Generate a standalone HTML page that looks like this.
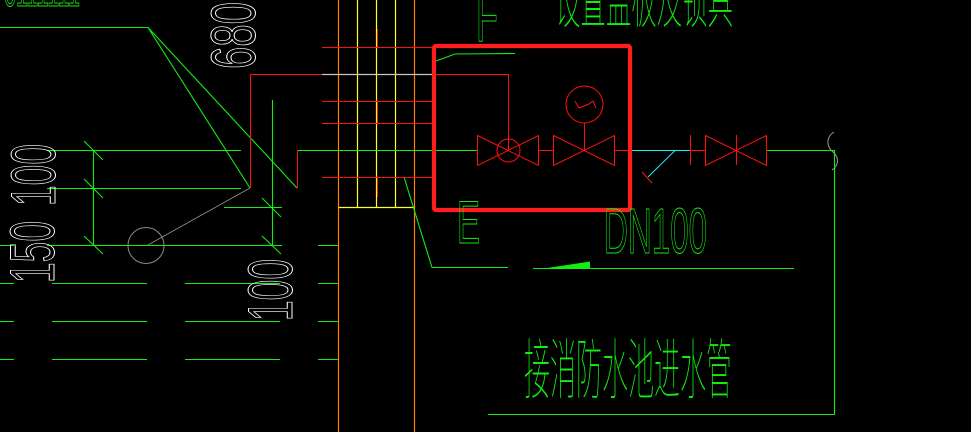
<!DOCTYPE html>
<html>
<head>
<meta charset="utf-8">
<style>
  html,body{margin:0;padding:0;background:#000;}
  body{width:971px;height:432px;overflow:hidden;}
  svg{display:block;}
  .num{font-family:"Liberation Sans",sans-serif;fill:none;stroke:#fff;stroke-width:1;}
  .gt{font-family:"Liberation Sans",sans-serif;fill:none;stroke:#11ee11;stroke-width:1;}
  .cjk{font-family:"Liberation Sans","Noto Sans CJK SC","WenQuanYi Zen Hei",sans-serif;fill:#11ee11;font-weight:100;}
</style>
</head>
<body>
<svg width="971" height="432" viewBox="0 0 971 432" xmlns="http://www.w3.org/2000/svg">
  <rect x="0" y="0" width="971" height="432" fill="#000"/>

  <!-- top-left cut-off green text -->
  <text class="gt" x="4" y="6" font-size="40" textLength="76" lengthAdjust="spacingAndGlyphs">0111111</text>

  <!-- orange verticals -->
  <g stroke="#ff8000" stroke-width="1.2" fill="none">
    <path d="M338.5,0 V432 M414.5,0 V432"/>
  </g>
  <!-- yellow -->
  <g stroke="#ffff20" stroke-width="1.2" fill="none">
    <path d="M357.5,0 V207.5 M376.5,0 V207.5 M395.5,0 V207.5 M338.5,207.5 H414.5"/>
  </g>

  <!-- gray -->
  <g stroke="#8a8a8a" stroke-width="1" fill="none">
    <circle cx="146" cy="245.5" r="18"/>
    <path d="M147,245.5 L250,188"/>
    <path d="M834,132 C826,137 826,146 833,152 C840,158 838,166 832,170" stroke="#a0a0a0"/>
  </g>
  <path d="M322,74.5 H432" stroke="#c8c8c8" stroke-width="1.2"/>

  <!-- green lines -->
  <g stroke="#11ee11" stroke-width="1.1" fill="none">
    <path d="M0,27.5 H148 L250,188 M148,27.5 L297,188"/>
    <path d="M47,150.5 H241 M47,188.5 H241"/>
    <path d="M93.5,150 V245"/>
    <path d="M84,141 L103,160 M84,179 L103,198 M84,236 L103,254"/>
    <path d="M272.5,100 V245"/>
    <path d="M224,207.5 H282"/>
    <path d="M262,198 L281,217 M262,236 L281,254"/>
    <path d="M0,245.5 H14 M47,245.5 H282 M318,245.5 H338"/>
    <path d="M0,283.5 H14 M52,283.5 H147 M185,283.5 H280 M318,283.5 H338"/>
    <path d="M0,321.5 H14 M52,321.5 H147 M185,321.5 H280 M318,321.5 H338"/>
    <path d="M0,359.5 H14 M52,359.5 H147 M185,359.5 H280 M318,359.5 H338"/>
    <path d="M297,150.5 H477"/>
    <path d="M404,177 L432,267.5 H508"/>
    <path d="M436,61 L455,54 L515,53.5"/>
    <path d="M767,150.5 H834"/>
    <path d="M834.5,150 V414.5 M488,414.5 H835"/>
    <path d="M533,268.5 H794"/>
  </g>
  <polygon points="544,268.5 590,261.5 590,268.5" fill="#11ee11"/>

  <!-- red lines -->
  <g stroke="#ff1010" stroke-width="1" fill="none">
    <path d="M250.5,188 V74.5 H322"/>
    <path d="M297.5,150 V188"/>
    <path d="M322,47.5 H432 M322,101.5 H432 M322,123.5 H432 M322,177.5 H432"/>
    <path d="M377.5,29 V47 M377.5,101 V123 M377.5,177 V197"/>
    <path d="M436,74.5 H508.5 V150"/>
    <!-- valve 1 -->
    <path d="M477.5,135.5 L538.5,165.5 L538.5,135.5 L477.5,165.5 Z"/>
    <circle cx="508.5" cy="150.5" r="11.5"/>
    <path d="M538.5,150.5 H553.5"/>
    <!-- valve 2 -->
    <path d="M553.5,135.5 L614.5,165.5 L614.5,135.5 L553.5,165.5 Z"/>
    <path d="M584.5,123 V150.5"/>
    <circle cx="584.5" cy="104.5" r="18.5"/>
    <path d="M575,101 L579,108 L589,104 L593,101 L596,108"/>
    <path d="M614.5,150.5 H632"/>
    <!-- tick -->
    <path d="M642,172 L652,183"/>
    <!-- valve 3 -->
    <path d="M690.5,135 V165 M690.5,150.5 H705.5"/>
    <path d="M705.5,135.5 L766.5,165.5 L766.5,135.5 L705.5,165.5 Z"/>
    <path d="M736.5,135 V165"/>
  </g>

  <!-- cyan -->
  <g stroke="#10f0ff" stroke-width="1" fill="none">
    <path d="M632,150.5 H690 M675,150.5 L648,177"/>
  </g>

  <!-- red highlight box -->
  <rect x="434" y="46" width="196" height="164" rx="2" ry="2" fill="none" stroke="#ff1e1e" stroke-width="4.2"/>

  <!-- white rotated dimension numbers -->
  <text class="num" transform="translate(255,69) rotate(-90)" font-size="63" textLength="67" lengthAdjust="spacingAndGlyphs">680</text>
  <text class="num" transform="translate(55,206) rotate(-90)" font-size="63" textLength="62" lengthAdjust="spacingAndGlyphs">100</text>
  <text class="num" transform="translate(54,283) rotate(-90)" font-size="63" textLength="62" lengthAdjust="spacingAndGlyphs">150</text>
  <text class="num" transform="translate(292,321) rotate(-90)" font-size="63" textLength="62" lengthAdjust="spacingAndGlyphs">100</text>

  <!-- green Latin labels -->
  <text class="gt" x="476" y="41" font-size="72" textLength="22" lengthAdjust="spacingAndGlyphs">F</text>
  <text class="gt" x="457" y="243" font-size="60" textLength="23" lengthAdjust="spacingAndGlyphs">E</text>
  <text class="gt" x="604" y="253" font-size="64" textLength="103" lengthAdjust="spacingAndGlyphs">DN100</text>

  <!-- green CJK labels -->
  <text class="cjk" x="555" y="22" font-size="66" textLength="178" lengthAdjust="spacingAndGlyphs">设置盖板及锁具</text>
  <text class="cjk" x="524" y="393" font-size="66" textLength="208" lengthAdjust="spacingAndGlyphs">接消防水池进水管</text>
</svg>
</body>
</html>
